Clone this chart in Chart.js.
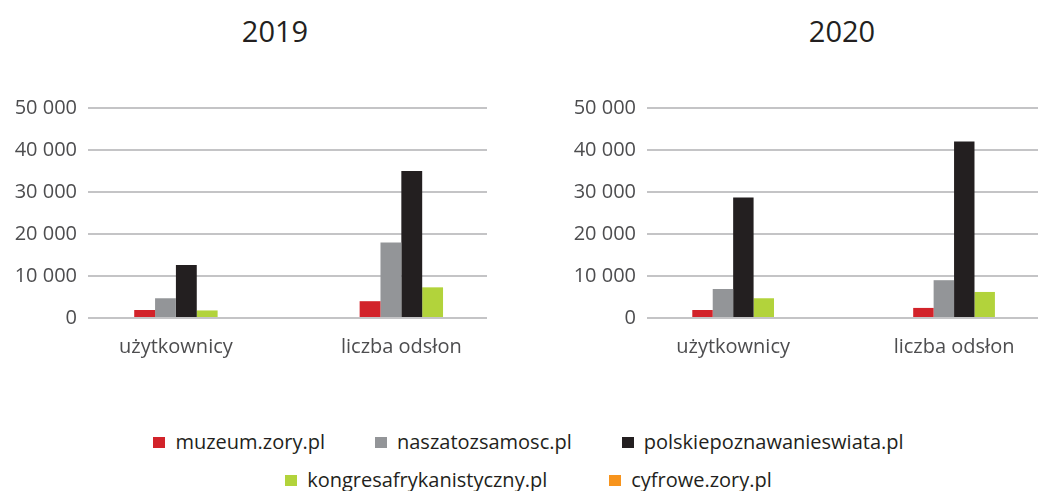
<!DOCTYPE html>
<html>
<head>
<meta charset="utf-8">
<script src="https://cdn.jsdelivr.net/npm/chart.js@4/dist/chart.umd.min.js"></script>
<style>
  html, body { margin: 0; padding: 0; background: #ffffff; }
  body { width: 1039px; height: 491px; position: relative; overflow: hidden; font-family: 'Open Sans', sans-serif; }
  .title { position: absolute; top: 12px; width: 200px; text-align: center; font-size: 29px; color: #231f20; line-height: 38px; }
  .box { position: absolute; top: 85px; height: 283px; }
  .legend { position: absolute; left: 18px; width: 1021px; top: 0; }
  .row { position: absolute; left: 0; width: 100%; display: flex; justify-content: center; font-size: 20px; color: #231f20; line-height: 26px; }
  .item { display: flex; align-items: center; }
  .sw { width: 12px; height: 11px; margin-right: 10px; }
</style>
</head>
<body>
<div class="title" id="t0" style="left:175px"></div>
<div class="title" id="t1" style="left:742px"></div>
<div class="box" style="left:0px;width:488px"><canvas id="c0"></canvas></div>
<div class="box" style="left:559px;width:480px"><canvas id="c1"></canvas></div>
<div class="legend">
  <div class="row" id="row0" style="top:429px;column-gap:50px"></div>
  <div class="row" id="row1" style="top:467px;column-gap:62px"></div>
</div>
<script>
// ---- data ----
const years = ['2019', '2020'];
const categories = ['użytkownicy', 'liczba odsłon'];
const seriesNames = ['muzeum.zory.pl', 'naszatozsamosc.pl', 'polskiepoznawanieswiata.pl', 'kongresafrykanistyczny.pl', 'cyfrowe.zory.pl'];
const seriesColors = ['#d2232a', '#939598', '#231f20', '#b2d33b', '#f7941d'];

const muzeum2019 = [1900, 4000];
const nasza2019 = [4700, 18000];
const polskie2019 = [12600, 35000];
const kongres2019 = [1800, 7300];
const cyfrowe2019 = [null, null];

const muzeum2020 = [1900, 2400];
const nasza2020 = [6900, 9000];
const polskie2020 = [28700, 42000];
const kongres2020 = [4700, 6200];
const cyfrowe2020 = [null, null];

const yTicks = [0, 10000, 20000, 30000, 40000, 50000];
const yTickLabels = ['0', '10 000', '20 000', '30 000', '40 000', '50 000'];

// ---- build ----
Chart.defaults.font.family = "'Open Sans', sans-serif";
Chart.defaults.font.size = 20;

function makeChart(canvasId, seriesValues) {
  const datasets = seriesValues.map((vals, i) => ({
    label: seriesNames[i],
    data: vals.map((v, j) => ({ x: j, y: v })),
    backgroundColor: seriesColors[i],
    borderWidth: 0,
    skipNull: true,
    categoryPercentage: 0.37,
    barPercentage: 1.0
  }));
  return new Chart(document.getElementById(canvasId), {
    type: 'bar',
    data: { datasets },
    options: {
      responsive: true,
      maintainAspectRatio: false,
      animation: false,
      layout: { padding: { top: 12, right: 1, left: 0, bottom: 0 } },
      plugins: { legend: { display: false }, tooltip: { enabled: false }, title: { display: false } },
      scales: {
        x: {
          type: 'linear',
          offset: false,
          min: -0.39,
          max: 1.38,
          grid: { display: false, drawTicks: false, offset: false },
          border: { display: false },
          afterFit: (s) => { s.height = 50; },
          ticks: {
            stepSize: 1,
            includeBounds: false,
            autoSkip: false,
            maxRotation: 0,
            padding: 17,
            color: '#4d4d4f',
            callback: (v) => (categories[v] !== undefined ? categories[v] : '')
          }
        },
        y: {
          min: yTicks[0],
          max: yTicks[yTicks.length - 1],
          grid: { color: '#c4c4c6', lineWidth: 2, drawTicks: false },
          border: { display: false },
          afterFit: (s) => { s.width = 88; },
          ticks: {
            stepSize: yTicks[1] - yTicks[0],
            padding: 11,
            color: '#4d4d4f',
            callback: (v) => { const k = yTicks.indexOf(v); return k >= 0 ? yTickLabels[k] : ''; }
          }
        }
      }
    }
  });
}

document.getElementById('t0').textContent = years[0];
document.getElementById('t1').textContent = years[1];

makeChart('c0', [muzeum2019, nasza2019, polskie2019, kongres2019, cyfrowe2019]);
makeChart('c1', [muzeum2020, nasza2020, polskie2020, kongres2020, cyfrowe2020]);

// legend (HTML) built from series arrays
seriesNames.forEach((name, i) => {
  const item = document.createElement('div');
  item.className = 'item';
  const sw = document.createElement('span');
  sw.className = 'sw';
  sw.style.background = seriesColors[i];
  const tx = document.createElement('span');
  tx.textContent = name;
  item.appendChild(sw);
  item.appendChild(tx);
  document.getElementById(i < 3 ? 'row0' : 'row1').appendChild(item);
});
</script>
</body>
</html>
